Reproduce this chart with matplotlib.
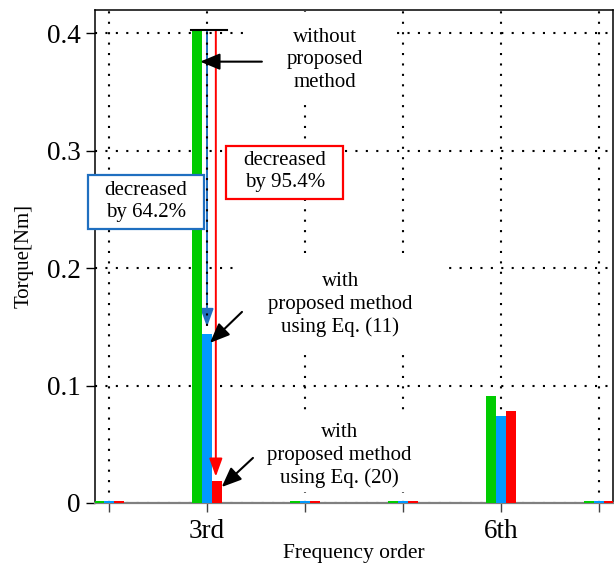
import matplotlib
matplotlib.use("Agg")
import matplotlib.pyplot as plt
from matplotlib.patches import Rectangle

plt.rcParams["font.family"] = ["Liberation Serif", "DejaVu Serif"]

# harmonic orders and torque amplitude [Nm]
orders = [2, 3, 4, 5, 6, 7]
tick_names = ["", "3rd", "", "", "6th", ""]
torque_without = [0.0018, 0.402, 0.0018, 0.0018, 0.0915, 0.0018]
torque_eq11 = [0.0018, 0.144, 0.0018, 0.0018, 0.0744, 0.0018]
torque_eq20 = [0.0018, 0.0185, 0.0018, 0.0018, 0.0782, 0.0018]

GREEN = "#00cc00"
BLUE = "#0099ff"
RED = "#ff0000"
DBLUE = "#1f6fc0"

fig = plt.figure(figsize=(6.14, 5.63), dpi=100)
ax = fig.add_axes([95/614, 60/563, 518/614, 493/563])

w = 0.1
ax.bar([o - w for o in orders], torque_without, width=w, color=GREEN, zorder=2.6)
ax.bar(orders, torque_eq11, width=w, color=BLUE, zorder=2.6)
ax.bar([o + w for o in orders], torque_eq20, width=w, color=RED, zorder=2.6)

ax.set_xlim(1.857, 7.143)
ax.set_ylim(0, 0.42)
ax.set_xticks(orders)
ax.set_xticklabels(tick_names, fontsize=19.5)
ax.set_yticks([0, 0.1, 0.2, 0.3, 0.4])
ax.set_yticklabels(["0", "0.1", "0.2", "0.3", "0.4"], fontsize=19.5)
ax.tick_params(axis="both", direction="out", length=6.5, width=1)
ax.tick_params(axis="x", pad=5, colors="#444444", labelcolor="black")
ax.tick_params(axis="y", pad=4)
ax.yaxis.get_major_ticks()[0].tick1line.set_color("gray")

ax.set_xlabel("Frequency order", fontsize=15.5, labelpad=0)
ax.set_ylabel("Torque[Nm]", fontsize=15, labelpad=9)

ax.set_axisbelow(True)
ax.grid(True, color="black", linestyle=(0, (1, 4)), linewidth=1.5)

for s in ["left", "top", "right"]:
    ax.spines[s].set_linewidth(1.1)
ax.spines["bottom"].set_color("gray")
ax.spines["bottom"].set_linewidth(1.6)

# white backgrounds behind the notes (hide the grid there)
def white_box(x0, x1, y0, y1):
    ax.add_patch(Rectangle((x0, y0), x1 - x0, y1 - y0, facecolor="white",
                           edgecolor="none", zorder=0.7))

white_box(3.38, 4.88, 0.344, 0.418)
white_box(3.31, 5.41, 0.131, 0.206)
white_box(3.31, 5.41, 0.009, 0.075)

# reference level
top = torque_without[1]
ax.plot([3 - 1.6*w, 3 + 2.0*w], [top + 0.001, top + 0.001], color="black", lw=1.5, zorder=3)

# decrease arrows
ax.annotate("", xy=(3.0, torque_eq11[1] + 0.006), xytext=(3.0, top),
            arrowprops=dict(arrowstyle="-|>,head_length=0.55,head_width=0.2",
                            color=DBLUE, lw=1.4, mutation_scale=20,
                            shrinkA=0, shrinkB=0), zorder=0.4)
ax.annotate("", xy=(3.09, torque_eq20[1] + 0.004), xytext=(3.09, top),
            arrowprops=dict(arrowstyle="-|>,head_length=0.55,head_width=0.2",
                            color=RED, lw=1.4, mutation_scale=20,
                            shrinkA=0, shrinkB=0), zorder=2.7)

black_arrow = dict(arrowstyle="-|>,head_length=0.6,head_width=0.25",
                   color="black", lw=1.5, mutation_scale=20, shrinkA=0, shrinkB=0)

ax.annotate("", xy=(2.93, 0.376), xytext=(3.56, 0.376), arrowprops=black_arrow, zorder=3)
ax.annotate("", xy=(3.03, 0.1364), xytext=(3.357, 0.1628), arrowprops=black_arrow, zorder=3)
ax.annotate("", xy=(3.15, 0.0136), xytext=(3.469, 0.0384), arrowprops=black_arrow, zorder=3)

ax.text(4.204, 0.3777, "without\nproposed\nmethod", fontsize=15, ha="center",
        va="center", linespacing=1.25, zorder=3)
ax.text(4.36, 0.1688, "with\nproposed method\nusing Eq. (11)", fontsize=15,
        ha="center", va="center", linespacing=1.25, zorder=3)
ax.text(4.35, 0.0401, "with\nproposed method\nusing Eq. (20)", fontsize=15,
        ha="center", va="center", linespacing=1.25, zorder=3)

# framed boxes
ax.add_patch(Rectangle((1.786, 0.2336), 2.969 - 1.786, 0.2796 - 0.2336,
                       facecolor="white", edgecolor=DBLUE, lw=1.6, zorder=4,
                       clip_on=False))
ax.text(2.378, 0.2566, "decreased\nby 64.2%", fontsize=15, ha="center",
        va="center", linespacing=1.2, zorder=5)
ax.add_patch(Rectangle((3.194, 0.2592), 4.388 - 3.194, 0.3044 - 0.2592,
                       facecolor="white", edgecolor=RED, lw=1.6, zorder=4,
                       clip_on=False))
ax.text(3.796, 0.2822, "decreased\nby 95.4%", fontsize=15, ha="center",
        va="center", linespacing=1.2, zorder=5)

fig.savefig("out.png", dpi=100)
